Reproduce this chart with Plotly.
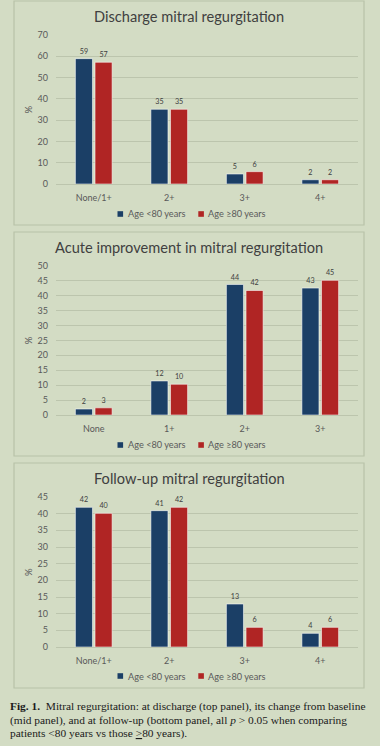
import plotly.graph_objects as go

W, H = 380, 746

# ---------------- data ----------------
series_names = ["Age <80 years", "Age ≥80 years"]

discharge_cats = ["None/1+", "2+", "3+", "4+"]
discharge_lt80 = [58.9, 35.1, 4.7, 2.0]
discharge_ge80 = [57.2, 35.1, 5.8, 2.0]
discharge_lbl_lt80 = ["59", "35", "5", "2"]
discharge_lbl_ge80 = ["57", "35", "6", "2"]

acute_cats = ["None", "1+", "2+", "3+"]
acute_lt80 = [2.0, 11.4, 43.7, 42.5]
acute_ge80 = [2.4, 10.3, 41.7, 45.1]
acute_lbl_lt80 = ["2", "12", "44", "43"]
acute_lbl_ge80 = ["3", "10", "42", "45"]

follow_cats = ["None/1+", "2+", "3+", "4+"]
follow_lt80 = [41.9, 40.9, 12.9, 4.1]
follow_ge80 = [40.1, 41.9, 5.9, 5.9]
follow_lbl_lt80 = ["42", "41", "13", "4"]
follow_lbl_ge80 = ["40", "42", "6", "6"]

panel_titles = ["Discharge mitral regurgitation",
                "Acute improvement in mitral regurgitation",
                "Follow-up mitral regurgitation"]
y_max = [70, 50, 45]
y_dtick = [10, 5, 5]

caption_lines = [
    "<b>Fig. 1.</b>  Mitral regurgitation: at discharge (top panel), its change from baseline",
    "(mid panel), and at follow-up (bottom panel, all <i>p</i> > 0.05 when comparing",
    "patients <80 years vs those <u>></u>80 years).",
]

# ---------------- style ----------------
BG = "#d3dcc4"
BLUE = "#1b3f66"
RED = "#b02524"
GRID = "#bcc5ad"
BORDER = "#b8c2a8"
TITLE_C = "#404040"
TICK_C = "#595959"
FONT = "Lato"

def py(p):
    return 1 - p / H

def px(p):
    return p / W

# plot areas in pixels: (top, bottom)
plot_px = [(35, 184), (265.7, 415), (497, 647)]
box_px = [(1, 225), (232, 456), (463, 688)]
title_px = [16, 247, 478]
legend_px = [214, 445, 676]
xdom = [px(56), px(358)]
legend_sq_x = [117.5, 198.3]
legend_txt_x = [126.3, 206.3]
colors = [BLUE, RED]

panels = [
    (discharge_cats, discharge_lt80, discharge_ge80, discharge_lbl_lt80, discharge_lbl_ge80),
    (acute_cats, acute_lt80, acute_ge80, acute_lbl_lt80, acute_lbl_ge80),
    (follow_cats, follow_lt80, follow_ge80, follow_lbl_lt80, follow_lbl_ge80),
]

fig = go.Figure()
layout = dict(
    width=W, height=H, autosize=False,
    margin=dict(l=0, r=0, t=0, b=0, pad=0, autoexpand=False),
    paper_bgcolor=BG, plot_bgcolor=BG,
    barmode="group", bargap=0.48, bargroupgap=0.13,
    font=dict(family=FONT, color=TICK_C),
    showlegend=False,
)
annotations = []
shapes = []

for i, (cats, a, b, la, lb) in enumerate(panels):
    n = i + 1
    xa = "x" if n == 1 else f"x{n}"
    ya = "y" if n == 1 else f"y{n}"
    for vals, lbls, name, col in [(a, la, series_names[0], BLUE), (b, lb, series_names[1], RED)]:
        fig.add_trace(go.Bar(
            x=cats, y=vals, name=name, text=lbls, textposition="outside",
            textfont=dict(size=7.2, color=TITLE_C, family=FONT),
            marker=dict(color=col, line=dict(color="rgba(255,255,255,0.55)", width=1)),
            cliponaxis=False, xaxis=xa, yaxis=ya,
        ))
    top, bot = plot_px[i]
    layout[f"xaxis{'' if n == 1 else n}"] = dict(
        domain=xdom, anchor=ya, showgrid=False, showline=True, automargin=False,
        linecolor=GRID, linewidth=1, ticks="", tickfont=dict(size=9, color=TICK_C),
        ticklabelstandoff=5, fixedrange=True,
    )
    layout[f"yaxis{'' if n == 1 else n}"] = dict(
        domain=[py(bot), py(top)], anchor=xa, range=[0, y_max[i]], dtick=y_dtick[i],
        showgrid=True, gridcolor=GRID, gridwidth=1, zeroline=False, showline=False,
        automargin=False,
        tickfont=dict(size=9, color=TICK_C), ticklabelstandoff=7, fixedrange=True,
    )
    # legend (square swatch + label for each series)
    ly = legend_px[i]
    for sx, tx, name, col in zip(legend_sq_x, legend_txt_x, series_names, colors):
        shapes.append(dict(type="rect", xref="paper", yref="paper",
                           x0=px(sx), x1=px(sx + 5.6), y0=py(ly + 2.8), y1=py(ly - 2.8),
                           fillcolor=col, line=dict(width=0)))
        annotations.append(dict(text=name, xref="paper", yref="paper",
                                x=px(tx), y=py(ly), xanchor="left", yanchor="middle",
                                showarrow=False,
                                font=dict(size=9.2, color=TICK_C, family=FONT)))
    bt, bb = box_px[i]
    shapes.append(dict(type="rect", xref="paper", yref="paper",
                       x0=px(14), x1=px(364), y0=py(bb), y1=py(bt),
                       line=dict(color=BORDER, width=1.2), layer="below"))
    annotations.append(dict(text=panel_titles[i], xref="paper", yref="paper",
                            x=px(189), y=py(title_px[i]), xanchor="center", yanchor="middle",
                            showarrow=False, font=dict(size=14.6, color=TITLE_C, family=FONT)))
    annotations.append(dict(text="%", xref="paper", yref="paper",
                            x=px(28), y=py((top + bot) / 2), xanchor="center", yanchor="middle",
                            textangle=-90, showarrow=False,
                            font=dict(size=9.5, color=TICK_C, family=FONT)))

cap_y = [706.5, 720, 733.5]
for t, yy in zip(caption_lines, cap_y):
    annotations.append(dict(text=t, xref="paper", yref="paper", x=px(8), y=py(yy),
                            xanchor="left", yanchor="middle", showarrow=False, align="left",
                            font=dict(size=11.4, color="#1a1a1a", family="Liberation Serif")))

layout["annotations"] = annotations
layout["shapes"] = shapes
fig.update_layout(**layout)
fig.write_html(
    "out.html",
    config={"displayModeBar": False, "responsive": False},
    post_script="document.body.style.margin='0';document.body.style.padding='0';"
                "document.body.style.overflow='hidden';",
)
